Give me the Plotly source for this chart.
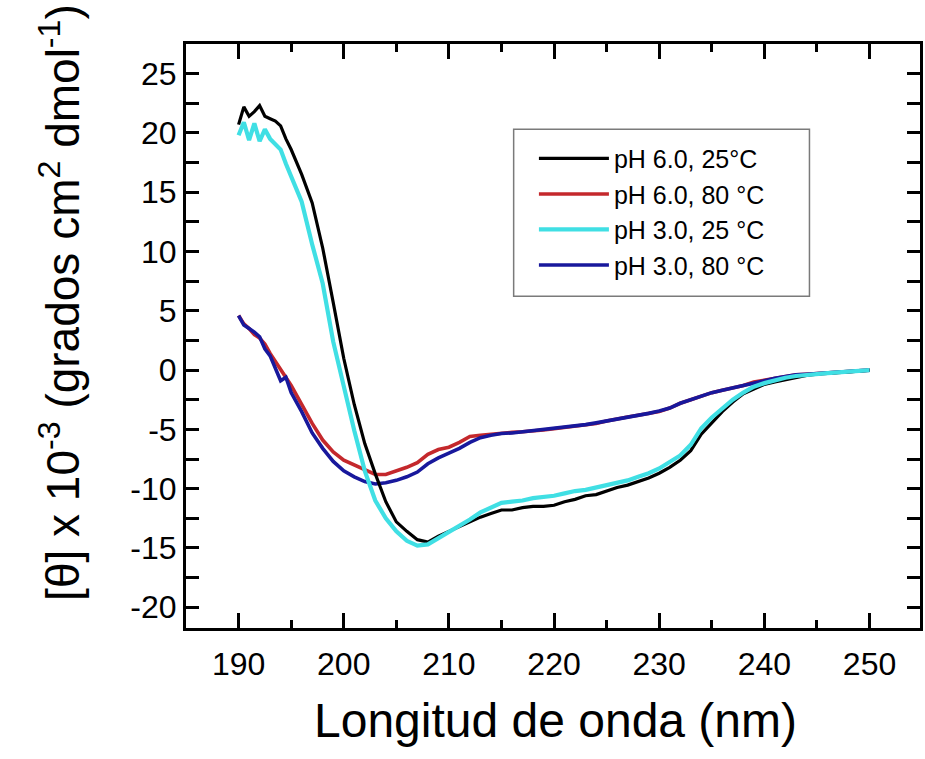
import plotly.graph_objects as go

# Wavelength (nm)
wavelength = [190, 190.5, 191, 191.5, 192, 192.5, 193, 193.5, 194, 194.5, 195,
              196, 197, 198, 199, 200, 201, 202, 203, 204, 205, 206, 207, 208, 209,
              210, 211, 212, 213, 214, 215, 216, 217, 218, 219, 220, 221, 222, 223,
              224, 225, 226, 227, 228, 229, 230, 231, 232, 233, 234, 235, 236, 237,
              238, 239, 240, 241, 242, 243, 244, 245, 246, 247, 248, 249, 250]

ph6_25 = [20.7, 22.2, 21.4, 21.8, 22.3, 21.4, 21.2, 21.0, 20.6, 19.5, 18.6,
          16.5, 14.1, 10.3, 5.7, 1.0, -2.9, -6.2, -8.75, -11.1, -12.8, -13.6, -14.3, -14.5, -14.0,
          -13.6, -13.2, -12.8, -12.4, -12.1, -11.8, -11.8, -11.6, -11.5, -11.5, -11.4, -11.1, -10.9, -10.6,
          -10.5, -10.2, -9.9, -9.7, -9.4, -9.1, -8.7, -8.2, -7.6, -6.8, -5.4, -4.4, -3.5, -2.7,
          -2.0, -1.6, -1.2, -1.0, -0.8, -0.6, -0.45, -0.35, -0.3, -0.2, -0.15, -0.1, 0.0]

ph6_80 = [4.6, 3.9, 3.5, 3.0, 2.7, 2.2, 1.4, 0.7, 0.0, -0.7, -1.3,
          -2.9, -4.5, -5.9, -6.9, -7.6, -8.0, -8.4, -8.8, -8.8, -8.5, -8.2, -7.8, -7.1, -6.7,
          -6.5, -6.1, -5.6, -5.5, -5.4, -5.3, -5.25, -5.2, -5.15, -5.05, -4.95, -4.85, -4.75, -4.6,
          -4.5, -4.3, -4.1, -3.95, -3.8, -3.65, -3.5, -3.2, -2.8, -2.5, -2.2, -1.9, -1.7, -1.5,
          -1.3, -1.0, -0.85, -0.7, -0.5, -0.4, -0.35, -0.3, -0.25, -0.15, -0.1, -0.1, 0.0]

ph3_25 = [19.8, 20.9, 19.4, 20.8, 19.3, 20.3, 19.5, 19.1, 18.6, 17.4, 16.4,
          14.2, 10.6, 7.3, 2.4, -1.5, -5.1, -8.5, -11.0, -12.5, -13.6, -14.4, -14.8, -14.7, -14.2,
          -13.7, -13.2, -12.6, -12.0, -11.6, -11.2, -11.1, -11.0, -10.8, -10.7, -10.6, -10.4, -10.2, -10.1,
          -9.9, -9.7, -9.5, -9.3, -9.0, -8.7, -8.3, -7.8, -7.2, -6.3, -4.9, -4.0, -3.2, -2.5,
          -1.9, -1.4, -1.1, -0.85, -0.65, -0.5, -0.4, -0.3, -0.25, -0.2, -0.15, -0.1, 0.0]

ph3_80 = [4.6, 3.8, 3.5, 3.2, 2.8, 1.8, 1.2, 0.2, -0.9, -0.6, -1.9,
          -3.5, -5.3, -6.6, -7.7, -8.5, -9.0, -9.4, -9.6, -9.5, -9.3, -9.0, -8.6, -7.9, -7.4,
          -7.0, -6.6, -6.1, -5.7, -5.5, -5.35, -5.3, -5.2, -5.15, -5.05, -4.95, -4.85, -4.7, -4.6,
          -4.45, -4.3, -4.1, -3.95, -3.8, -3.65, -3.45, -3.2, -2.8, -2.5, -2.2, -1.9, -1.7, -1.5,
          -1.25, -1.05, -0.85, -0.7, -0.55, -0.4, -0.35, -0.3, -0.2, -0.15, -0.1, -0.05, 0.0]

series_names = ["pH 6.0, 25°C", "pH 6.0, 80 °C", "pH 3.0, 25 °C", "pH 3.0, 80 °C"]
series_values = [ph6_25, ph6_80, ph3_25, ph3_80]
series_colors = ["#000000", "#c4282c", "#40dfe4", "#18189c"]
series_widths = [3.2, 3.6, 4.2, 3.6]

y_tickvals = [25, 20, 15, 10, 5, 0, -5, -10, -15, -20]
y_ticktext = ["25", "20", "15", "10", "5", "0", "-5", "-10", "-15", "-20"]
x_tickvals = [190, 200, 210, 220, 230, 240, 250]

fig = go.Figure()
# draw order: red & blue under, black & cyan over
for i in [1, 3, 0, 2]:
    fig.add_trace(go.Scatter(
        x=wavelength, y=series_values[i], mode="lines", name=series_names[i],
        line=dict(color=series_colors[i], width=series_widths[i]),
        legendrank=[1, 2, 3, 4][i],
    ))

FONT = "Arial, 'Liberation Sans', sans-serif"

fig.update_layout(
    width=925, height=759,
    margin=dict(l=186, r=2, t=44, b=131),
    paper_bgcolor="white", plot_bgcolor="white",
    font=dict(family=FONT, color="black"),
    showlegend=True,
    legend=dict(
        x=0.474, y=0.843, xanchor="left", yanchor="top",
        bgcolor="rgba(0,0,0,0)", borderwidth=0,
        font=dict(size=25, family=FONT), itemwidth=70,
        traceorder="normal",
    ),
    shapes=[dict(type="rect", xref="paper", yref="paper",
                 x0=0.4464, x1=0.8494, y0=0.568, y1=0.854,
                 line=dict(color="#7a7a7a", width=1.5), fillcolor="rgba(0,0,0,0)", layer="below")],
)

fig.update_xaxes(
    range=[185, 254.8], showgrid=False, zeroline=False,
    showline=True, linecolor="black", linewidth=3, mirror="ticks",
    ticks="inside", ticklen=15, tickwidth=2.5, tickcolor="black",
    tickvals=x_tickvals, tickfont=dict(size=32, family=FONT), ticklabelstandoff=6,
    minor=dict(ticks="inside", ticklen=8, tickwidth=2.5, tickcolor="black", dtick=5, tick0=185, showgrid=False),
)
fig.update_yaxes(
    range=[-21.75, 27.5], showgrid=False, zeroline=False,
    showline=True, linecolor="black", linewidth=3, mirror="ticks",
    ticks="inside", ticklen=13, tickwidth=2.5, tickcolor="black",
    tickvals=y_tickvals, ticktext=y_ticktext, tickfont=dict(size=32, family=FONT),
    minor=dict(ticks="inside", ticklen=13, tickwidth=2.5, tickcolor="black", dtick=2.5, tick0=0, showgrid=False),
)

fig.add_annotation(
    text="[θ] x 10<sup>-3</sup> (grados cm<sup>2</sup> dmol<sup>-1</sup>)",
    xref="paper", yref="paper", x=-0.172, y=0.558, xanchor="center", yanchor="middle",
    textangle=-90, showarrow=False, font=dict(size=46, family=FONT, color="black"),
)
fig.add_annotation(
    text="Longitud de onda (nm)",
    xref="paper", yref="paper", x=0.503, y=-0.158, xanchor="center", yanchor="middle",
    showarrow=False, font=dict(size=48, family=FONT, color="black"),
)

fig.write_html("out.html", config={"displayModeBar": False},
               post_script="document.body.style.margin='0';")
